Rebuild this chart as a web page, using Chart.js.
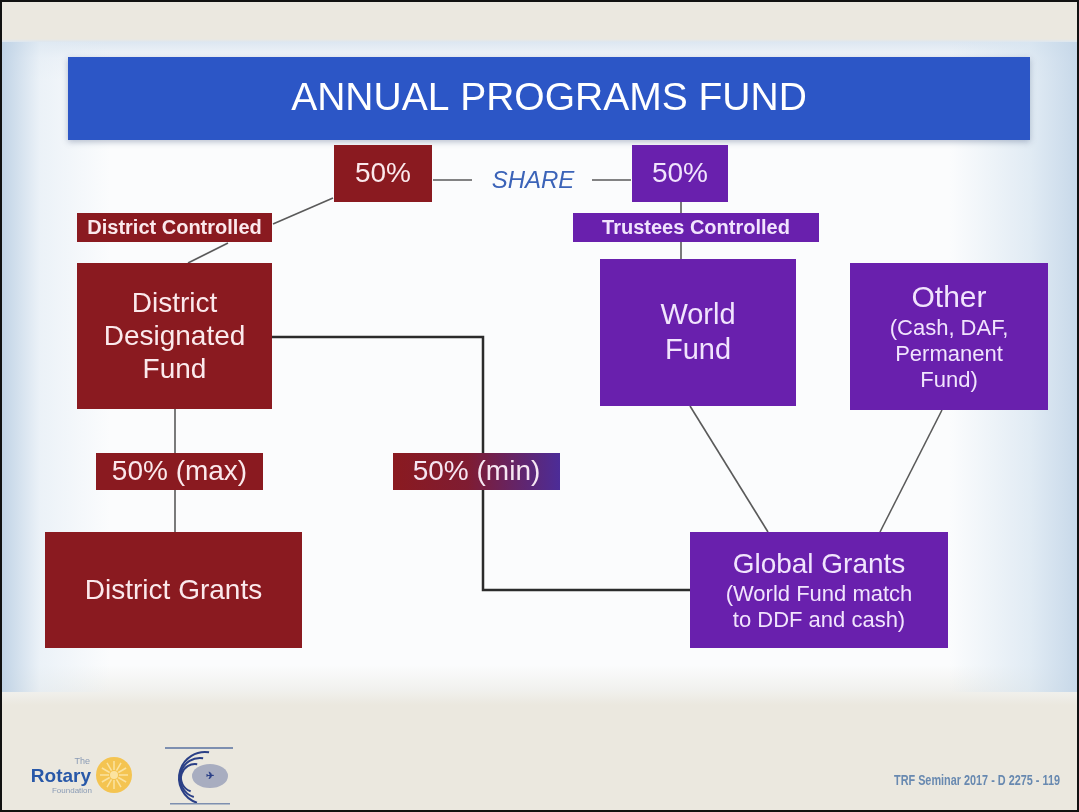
<!DOCTYPE html>
<html>
<head>
<meta charset="utf-8">
<script src="https://cdn.jsdelivr.net/npm/chart.js@4.4.1/dist/chart.umd.min.js"></script>
<style>
  html, body { margin: 0; padding: 0; }
  #slide {
    position: relative; width: 1079px; height: 812px; overflow: hidden;
    background:
      linear-gradient(to right, rgba(188,208,228,0.95) 0, rgba(225,235,244,0.6) 40px, rgba(255,255,255,0) 110px, rgba(255,255,255,0) 950px, rgba(214,228,240,0.7) 1030px, rgba(196,214,232,0.95) 100%) 0 42px / 100% 650px no-repeat,
      linear-gradient(to bottom, #ebe8e0 0, #ebe8e0 39px, #dde7f1 42px, #f3f6fa 58px, #fbfcfd 80px, #fbfcfd 665px, #f1f1ee 690px, #ebe8df 705px, #ebe8df 100%);
  }
  #frame { position: absolute; left: 0; top: 0; width: 1079px; height: 812px; box-sizing: border-box; border: 2px solid #111; pointer-events: none; }
  canvas { position: absolute; left: 0; top: 0; }
</style>
</head>
<body>
<div id="slide">
  <canvas id="flowChart" width="1079" height="812"></canvas>
  <div id="frame"></div>
</div>
<script>
// boxes of the diagram (slide units, y grows downward)
const nodeText = [
  ['ANNUAL PROGRAMS FUND'],
  ['50%'], ['50%'],
  ['District Controlled'], ['Trustees Controlled'],
  ['District', 'Designated', 'Fund'],
  ['World', 'Fund'],
  ['Other', '(Cash, DAF,', 'Permanent', 'Fund)'],
  ['50% (max)'], ['50% (min)'],
  ['District Grants'],
  ['Global Grants', '(World Fund match', 'to DDF and cash)']
];
const nodeX0 = [68, 334, 632, 77, 573, 77, 600, 850, 96, 393, 45, 690];
const nodeX1 = [1030, 432, 728, 272, 819, 272, 796, 1048, 263, 560, 302, 948];
const nodeY0 = [57, 145, 145, 213, 213, 263, 259, 263, 453, 453, 532, 532];
const nodeY1 = [140, 202, 202, 242, 242, 409, 406, 410, 490, 490, 648, 648];
const nodeSide = ['title', 'district', 'trustees', 'district', 'trustees', 'district', 'trustees', 'trustees', 'district', 'both', 'district', 'trustees'];

// connectors between boxes
const linkPaths = [
  [[433, 180], [472, 180]],
  [[592, 180], [631, 180]],
  [[333, 198], [273, 224]],
  [[228, 243], [188, 263]],
  [[681, 202], [681, 213]],
  [[681, 242], [681, 259]],
  [[175, 409], [175, 453]],
  [[175, 490], [175, 532]],
  [[690, 406], [768, 532]],
  [[942, 410], [880, 532]],
  [[272, 337], [483, 337], [483, 590], [690, 590]]
];
const linkHeavy = [false, false, false, false, false, false, false, false, false, false, true];

const shareText = 'SHARE';
const footerText = 'TRF Seminar 2017 - D 2275 - 119';

// text sizes per line (style)
const nodeFont = [[39], [28], [28], [20], [20], [28, 28, 28], [29, 29], [30, 22, 22, 22], [28], [28], [28], [28, 22, 22]];
const nodeBold = [false, false, false, true, true, false, false, false, false, false, false, false];

const RED = '#8a1a20';
const PURPLE = '#6920ad';
const FONT = '"Liberation Sans", Arial, sans-serif';

const boxPlugin = {
  id: 'boxes',
  afterDatasetsDraw(chart) {
    const ctx = chart.ctx;
    const xs = chart.scales.x, ys = chart.scales.y;
    ctx.save();
    nodeText.forEach((lines, i) => {
      const l = xs.getPixelForValue(nodeX0[i]), r = xs.getPixelForValue(nodeX1[i]);
      const t = ys.getPixelForValue(nodeY0[i]), b = ys.getPixelForValue(nodeY1[i]);
      let fill = RED, txt = '#fbe9ec';
      if (nodeSide[i] === 'title') { fill = '#2c56c6'; txt = '#ffffff'; }
      if (nodeSide[i] === 'trustees') { fill = PURPLE; txt = '#f1e4fd'; }
      if (nodeSide[i] === 'both') {
        fill = ctx.createLinearGradient(l, 0, r, 0);
        fill.addColorStop(0, RED);
        fill.addColorStop(0.45, '#7f1c32');
        fill.addColorStop(1, '#4c2c98');
        txt = '#f6e6f2';
      }
      if (nodeSide[i] === 'title') {
        ctx.shadowColor = 'rgba(60,80,120,0.35)';
        ctx.shadowBlur = 6;
        ctx.shadowOffsetY = 2;
      }
      ctx.fillStyle = fill;
      ctx.fillRect(l, t, r - l, b - t);
      ctx.shadowColor = 'transparent';
      ctx.shadowBlur = 0;
      ctx.shadowOffsetY = 0;

      const sizes = nodeFont[i];
      const heights = sizes.map(s => s * 1.18);
      const total = heights.reduce((a, v) => a + v, 0);
      let y = (t + b) / 2 - total / 2;
      ctx.fillStyle = txt;
      ctx.textAlign = 'center';
      ctx.textBaseline = 'middle';
      lines.forEach((line, k) => {
        ctx.font = (nodeBold[i] ? 'bold ' : '') + sizes[k] + 'px ' + FONT;
        ctx.fillText(line, (l + r) / 2, y + heights[k] / 2 + 1, r - l - 8);
        y += heights[k];
      });
    });

    // SHARE text between the two halves
    ctx.font = 'italic 24px ' + FONT;
    ctx.fillStyle = '#3b63b8';
    ctx.fillText(shareText, xs.getPixelForValue(533), ys.getPixelForValue(181), 90);
    ctx.restore();
  },
  afterDraw(chart) {
    const ctx = chart.ctx;
    ctx.save();
    // footer text
    ctx.font = 'bold 15px ' + FONT;
    ctx.fillStyle = '#6889b0';
    ctx.textAlign = 'right';
    ctx.textBaseline = 'middle';
    ctx.fillText(footerText, 1060, 781, 166);

    // Rotary Foundation logo
    ctx.textAlign = 'right';
    ctx.fillStyle = '#8a9bb5';
    ctx.font = '9px ' + FONT;
    ctx.fillText('The', 90, 762);
    ctx.fillStyle = '#2858a8';
    ctx.font = 'bold 19px ' + FONT;
    ctx.fillText('Rotary', 91, 777);
    ctx.fillStyle = '#8a9bb5';
    ctx.font = '8px ' + FONT;
    ctx.fillText('Foundation', 92, 791);
    ctx.beginPath();
    ctx.arc(114, 775, 18, 0, Math.PI * 2);
    ctx.fillStyle = '#f4c451';
    ctx.fill();
    ctx.strokeStyle = '#fbe3a0';
    ctx.lineWidth = 1.5;
    for (let a = 0; a < 12; a++) {
      const ang = a * Math.PI / 6;
      ctx.beginPath();
      ctx.moveTo(114 + Math.cos(ang) * 5, 775 + Math.sin(ang) * 5);
      ctx.lineTo(114 + Math.cos(ang) * 14, 775 + Math.sin(ang) * 14);
      ctx.stroke();
    }
    ctx.beginPath();
    ctx.arc(114, 775, 4, 0, Math.PI * 2);
    ctx.fillStyle = '#fbe3a0';
    ctx.fill();

    // second emblem
    ctx.fillStyle = '#7d8fb0';
    ctx.fillRect(165, 747, 68, 2);
    ctx.strokeStyle = '#2a3f86';
    ctx.lineWidth = 2;
    for (let k = 0; k < 3; k++) {
      ctx.beginPath();
      ctx.arc(205 - k * 5, 778, 26 - k * 6, Math.PI * 0.6, Math.PI * 1.55);
      ctx.stroke();
    }
    ctx.fillStyle = '#2a3f86';
    ctx.beginPath();
    ctx.ellipse(210, 776, 18, 12, 0, 0, Math.PI * 2);
    ctx.globalAlpha = 0.35;
    ctx.fill();
    ctx.globalAlpha = 1;
    ctx.font = 'bold 10px ' + FONT;
    ctx.textAlign = 'center';
    ctx.fillText('✈', 210, 776);
    ctx.fillStyle = '#7d8fb0';
    ctx.fillRect(170, 803, 60, 1.5);
    ctx.restore();
  }
};

const ctx = document.getElementById('flowChart').getContext('2d');
new Chart(ctx, {
  type: 'scatter',
  data: {
    datasets: linkPaths.map((path, i) => ({
      data: path.map(p => ({ x: p[0], y: p[1] })),
      showLine: true,
      borderColor: linkHeavy[i] ? '#2b2b2b' : '#5a5a5a',
      borderWidth: linkHeavy[i] ? 2.5 : 1.6,
      pointRadius: 0,
      tension: 0,
      fill: false
    }))
  },
  options: {
    responsive: false,
    animation: false,
    events: [],
    layout: { padding: 0 },
    plugins: { legend: { display: false }, tooltip: { enabled: false } },
    scales: {
      x: { type: 'linear', min: 0, max: 1079, display: false },
      y: { type: 'linear', min: 0, max: 812, reverse: true, display: false }
    }
  },
  plugins: [boxPlugin]
});
</script>
</body>
</html>
